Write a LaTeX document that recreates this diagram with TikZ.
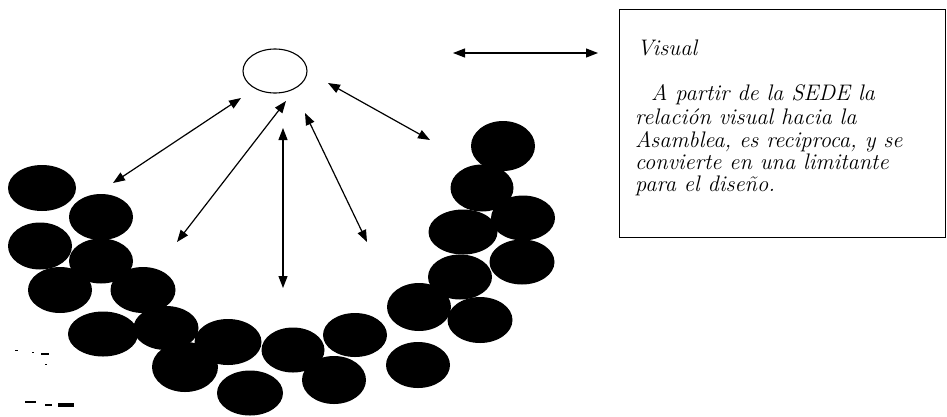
\documentclass[tikz,border=0pt]{standalone}
\usepackage{fontspec}
\setmainfont{Latin Modern Roman}
\usepackage{tikz}
\usetikzlibrary{arrows.meta,shapes.geometric}
\tikzset{
  blob/.style={ellipse,fill=black,inner sep=0pt,minimum width=64pt,minimum height=46pt},
  sede/.style={ellipse,draw=black,line width=1.1pt,fill=white,inner sep=0pt,minimum width=64pt,minimum height=44pt},
  vista/.style={{Triangle[length=12pt,width=9pt]}-{Triangle[length=12pt,width=9pt]},line width=1.2pt,draw=black},
  nota/.style={draw=black,line width=1.1pt,rectangle,inner sep=0pt,anchor=north west},
  txt/.style={font=\fontsize{22.5}{23}\selectfont\itshape,inner sep=0pt,anchor=base west},
}
\begin{document}
\begin{tikzpicture}[x=1pt,y=-1pt]
  \useasboundingbox (0,0) rectangle (947,416);
  % SEDE
  \node[sede] (sd) at (275,71) {};
  % Asamblea, lado izquierdo
  \node[blob,minimum width=68pt] (a1) at (42,188) {};
  \node[blob] (a2) at (101,217) {};
  \node[blob,minimum height=47pt] (a3) at (40,246) {};
  \node[blob,minimum height=45pt] (a4) at (101,261) {};
  \node[blob] (a5) at (60,290) {};
  \node[blob,minimum width=65pt] (a6) at (143,290) {};
  \node[blob,minimum width=70pt,minimum height=45pt] (a7) at (103,334) {};
  \node[blob,minimum width=65pt,minimum height=44pt] (a8) at (166,328) {};
  \node[blob,minimum width=66pt,minimum height=50pt] (a9) at (185,367) {};
  \node[blob,minimum width=67pt] (a10) at (228,342) {};
  \node[blob,minimum width=66pt,minimum height=45pt] (a11) at (250,393) {};
  \node[blob,minimum width=63pt,minimum height=45pt] (a12) at (293,350) {};
  % Asamblea, lado derecho
  \node[blob,minimum height=48pt] (a13) at (334,380) {};
  \node[blob,minimum height=44pt] (a14) at (355,335) {};
  \node[blob] (a15) at (418,365) {};
  \node[blob,minimum height=48pt] (a16) at (419,307) {};
  \node[blob,minimum width=65pt] (a17) at (480,320) {};
  \node[blob,minimum height=45pt] (a18) at (460,277) {};
  \node[blob,minimum width=65pt,minimum height=45pt] (a19) at (522,262) {};
  \node[blob,minimum width=69pt,minimum height=45pt] (a20) at (463,232) {};
  \node[blob,minimum height=45pt] (a21) at (523,218) {};
  \node[blob,minimum width=63pt,minimum height=47pt] (a22) at (482,188) {};
  \node[blob,minimum height=50pt] (a23) at (503,146) {};
  % extremos de las flechas
  \coordinate (v1a) at (241,98);  \coordinate (v1b) at (113,183);
  \coordinate (v2a) at (286,101); \coordinate (v2b) at (177,242);
  \coordinate (v3a) at (283,128); \coordinate (v3b) at (283,288);
  \coordinate (v4a) at (305,113); \coordinate (v4b) at (367,242);
  \coordinate (v5a) at (328,83);  \coordinate (v5b) at (430,140);
  \coordinate (v6a) at (453,53);  \coordinate (v6b) at (598,53);
  \draw[vista] (v1a) -- (v1b);
  \draw[vista] (v2a) -- (v2b);
  \draw[vista] (v3a) -- (v3b);
  \draw[vista] (v4a) -- (v4b);
  \draw[vista] (v5a) -- (v5b);
  \draw[vista] (v6a) -- (v6b);
  % recuadro
  \node[nota,minimum width=326pt,minimum height=228pt] (nt) at (619,9) {};
  \node[txt] (t0) at (637,55) {Visual};
  \node[txt] (t1) at (651,100) {A partir de la SEDE la};
  \node[txt] (t2) at (635,124) {relación visual hacia la};
  \node[txt] (t3) at (635,147) {Asamblea, es reciproca, y se};
  \node[txt] (t4) at (635,169) {convierte en una limitante};
  \node[txt] (t5) at (635,191) {para el diseño.};
  % manchas
  \fill (15,349.5) rectangle (18,350.5);
  \fill (32,351.5) rectangle (34,352.5);
  \fill (41,353) rectangle (49,354.5);
  \fill (45,363.5) rectangle (47,364.5);
  \fill (25,401) rectangle (36,402.5);
  \fill (45,404) rectangle (52,405.5);
  \fill (58,403) rectangle (74,406.5);
\end{tikzpicture}
\end{document}
